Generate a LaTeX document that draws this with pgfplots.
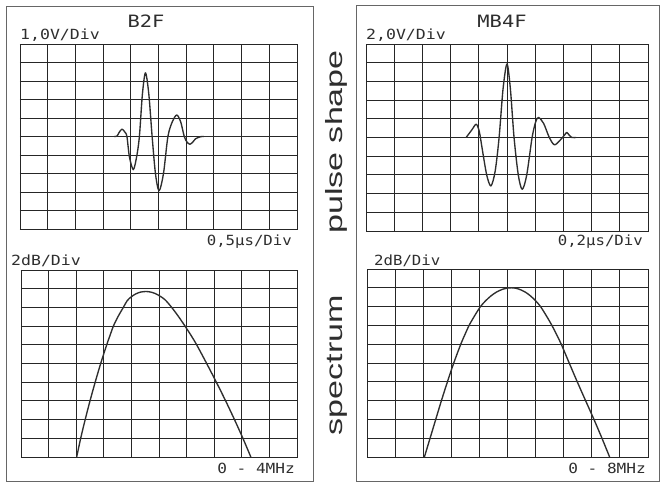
\documentclass[border=0pt]{standalone}
\usepackage{fontspec}
\setmainfont{Liberation Sans}
\newfontfamily\monof{DejaVu Sans Mono}
\usepackage{pgfplots}
\pgfplotsset{compat=1.18}
\definecolor{ink}{gray}{0.18}
\definecolor{gridc}{gray}{0.15}
\pgfplotsset{
  scope/.style={scale only axis, anchor=south west,
    axis line style={gridc, line width=0.9pt},
    grid=major, major grid style={gridc, line width=0.9pt},
    xticklabels={}, yticklabels={}, tick style={draw=none},
    major tick length=0pt},
  trace/.style={ink, line width=1.35pt, smooth, no markers, line join=round}
}
\tikzset{
  small/.style={inner sep=0pt, text=ink, font=\monof\fontsize{14}{14}\selectfont},
  big/.style={inner sep=0pt, text=ink, font=\monof\fontsize{17}{17}\selectfont}
}
\begin{document}
\begin{tikzpicture}
\fill[white] (0,0) rectangle (662pt,488pt);
\path[use as bounding box] (0,0) rectangle (662pt,488pt);
% panel boxes
\draw[black!60, line width=1pt] (6pt,7pt) rectangle (313pt,481pt);
\draw[black!60, line width=1pt] (356pt,7pt) rectangle (659pt,482pt);

% ---------- B2F pulse ----------
\begin{axis}[scope, at={(20pt,259pt)}, width=277pt, height=185pt,
  xmin=0, xmax=5, ymin=-5, ymax=5,
  xtick={0,0.5,1,1.5,2,2.5,3,3.5,4,4.5,5}, ytick={-5,-4,-3,-2,-1,0,1,2,3,4,5}]
\addplot[ink, line width=1.35pt] coordinates {(0.36,0) (1.70,0)};
\addplot[trace] coordinates {
(1.70,0) (1.75,0.02) (1.79,0.22) (1.84,0.4) (1.89,0.25) (1.93,0) (1.975,-1.1)
(2.045,-1.79) (2.105,-1.1) (2.155,0) (2.21,2.3) (2.265,3.44) (2.325,2.3)
(2.385,0) (2.445,-2.0) (2.51,-2.93) (2.59,-2.0) (2.67,0) (2.75,0.8)
(2.83,1.16) (2.90,0.8) (2.965,0) (3.015,-0.3) (3.065,-0.42) (3.12,-0.3)
(3.17,-0.12) (3.26,-0.01) (3.32,0)};
\addplot[ink, line width=1.35pt] coordinates {(3.32,0) (4.52,0)};
\end{axis}

% ---------- B2F spectrum ----------
\begin{axis}[scope, at={(21pt,31pt)}, width=276pt, height=187pt,
  xmin=0, xmax=4, ymin=-20, ymax=0,
  xtick={0,0.4,0.8,1.2,1.6,2,2.4,2.8,3.2,3.6,4}, ytick={-20,-18,-16,-14,-12,-10,-8,-6,-4,-2,0}]
\addplot[trace] coordinates {
(0.807,-20) (0.865,-18) (0.930,-16) (1.000,-14) (1.075,-12) (1.155,-10)
(1.242,-8) (1.290,-7) (1.339,-6) (1.405,-5) (1.483,-4) (1.54,-3.27)
(1.60,-2.86) (1.66,-2.57) (1.73,-2.37) (1.81,-2.3) (1.88,-2.36) (1.95,-2.53)
(2.02,-2.82) (2.09,-3.2) (2.184,-4) (2.285,-5) (2.377,-6) (2.465,-7)
(2.546,-8) (2.691,-10) (2.831,-12) (2.966,-14) (3.094,-16) (3.216,-18)
(3.331,-20)};
\end{axis}

% ---------- MB4F pulse ----------
\begin{axis}[scope, at={(366pt,257pt)}, width=282pt, height=187pt,
  xmin=0, xmax=2, ymin=-10, ymax=10,
  xtick={0,0.2,0.4,0.6,0.8,1,1.2,1.4,1.6,1.8,2}, ytick={-10,-8,-6,-4,-2,0,2,4,6,8,10}]
\addplot[trace] coordinates {
(0.71,0) (0.75,0.8) (0.782,1.42) (0.804,0.6) (0.824,-1.2) (0.856,-4.0)
(0.886,-5.18) (0.916,-3.6) (0.944,0) (0.972,5.2) (1.0,7.86) (1.024,5.2)
(1.05,0) (1.08,-4.0) (1.108,-5.54) (1.14,-4.0) (1.178,0) (1.204,1.7)
(1.224,2.14) (1.26,1.5) (1.30,0) (1.336,-0.78) (1.376,-0.3) (1.41,0.3)
(1.424,0.54) (1.444,0.2) (1.46,0) (1.49,0)};
\end{axis}

% ---------- MB4F spectrum ----------
\begin{axis}[scope, at={(367pt,31pt)}, width=281pt, height=188pt,
  xmin=0, xmax=8, ymin=-20, ymax=0,
  xtick={0,0.8,1.6,2.4,3.2,4,4.8,5.6,6.4,7.2,8}, ytick={-20,-18,-16,-14,-12,-10,-8,-6,-4,-2,0}]
\addplot[trace] coordinates {
(1.634,-20) (1.796,-18) (1.957,-16) (2.119,-14) (2.290,-12) (2.470,-10)
(2.670,-8) (2.785,-7) (2.907,-6) (3.06,-5) (3.230,-4) (3.38,-3.37)
(3.53,-2.86) (3.68,-2.47) (3.83,-2.2) (3.97,-2.05) (4.105,-2.0) (4.24,-2.05)
(4.38,-2.22) (4.52,-2.49) (4.66,-2.88) (4.80,-3.38) (4.941,-4) (5.11,-5)
(5.264,-6) (5.40,-7) (5.530,-8) (5.757,-10) (5.986,-12) (6.223,-14)
(6.461,-16) (6.689,-18) (6.907,-20)};
\end{axis}

% ---------- texts ----------
\node[big] at (146pt,467pt) {\scalebox{1.2}[1]{B2F}};
\node[big] at (502pt,467pt) {\scalebox{1.2}[1]{MB4F}};
\node[small, anchor=west] at (20pt,453pt) {\scalebox{1.18}[1]{1,0V/Div}};
\node[small, anchor=west] at (366pt,453pt) {\scalebox{1.18}[1]{2,0V/Div}};
\node[small, anchor=east] at (292pt,246pt) {\scalebox{1.12}[1]{0,5µs/Div}};
\node[small, anchor=east] at (643pt,246pt) {\scalebox{1.12}[1]{0,2µs/Div}};
\node[small, anchor=west] at (11pt,227pt) {\scalebox{1.18}[1]{2dB/Div}};
\node[small, anchor=west] at (374pt,227pt) {\scalebox{1.12}[1]{2dB/Div}};
\node[small, anchor=east] at (295pt,20pt) {\scalebox{1.15}[1]{0 - 4MHz}};
\node[small, anchor=east] at (646pt,20pt) {\scalebox{1.15}[1]{0 - 8MHz}};
\node[inner sep=0pt, rotate=90, anchor=base, text=ink] at (342pt,346pt)
  {\scalebox{1.45}[1]{\fontsize{23.5}{23.5}\selectfont pulse shape}};
\node[inner sep=0pt, rotate=90, anchor=base, text=ink] at (342pt,123pt)
  {\scalebox{1.45}[1]{\fontsize{23.5}{23.5}\selectfont spectrum}};
\end{tikzpicture}
\end{document}
